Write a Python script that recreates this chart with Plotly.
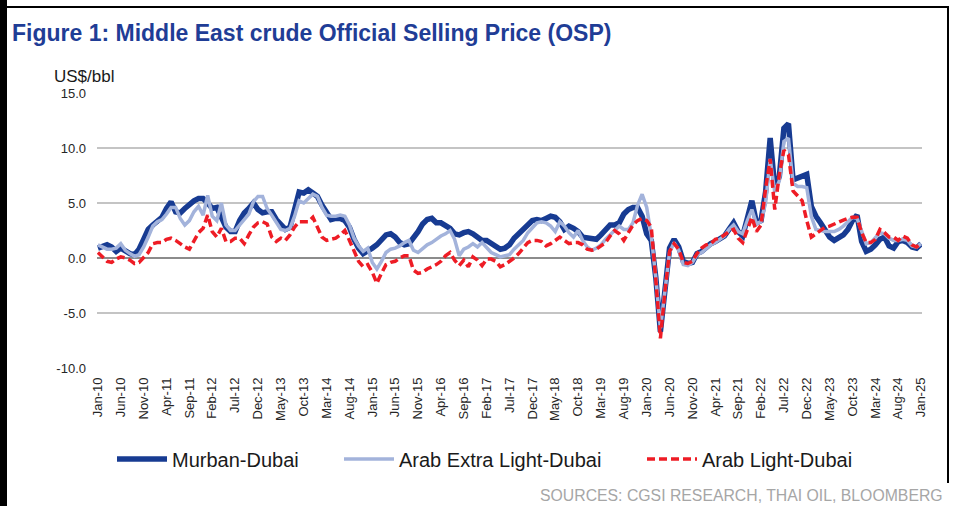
import plotly.graph_objects as go

# ---------------- data (monthly, Jan-10 .. Jan-25) ----------------
months = ["Jan", "Feb", "Mar", "Apr", "May", "Jun", "Jul", "Aug", "Sep", "Oct", "Nov", "Dec"]
categories = [f"{mo}-{yy:02d}" for yy in range(10, 26) for mo in months][:181]
tick_labels = categories[::5]

murban_dubai = [
    0.9, 1.0, 1.2, 1.0, 0.6, 0.9, 0.6, 0.4, 0.3, 0.8, 1.7, 2.6,
    3.0, 3.3, 3.7, 4.5, 5.1, 4.2, 4.1, 4.5, 4.9, 5.2, 5.4, 5.4,
    5.0, 4.5, 4.6, 3.8, 2.8, 2.4, 2.4, 3.4, 4.1, 4.5, 5.0, 4.4,
    4.1, 4.2, 4.2, 3.5, 3.1, 2.6, 2.8, 4.6, 6.0, 5.9, 6.2, 5.9,
    5.6, 4.8, 4.1, 3.5, 3.6, 3.6, 3.4, 2.8, 1.7, 0.9, 0.4, 0.6,
    0.9, 1.2, 1.7, 2.1, 2.2, 1.9, 1.4, 1.2, 1.3, 1.8, 2.4, 3.1,
    3.5, 3.6, 3.2, 3.2, 3.0, 2.7, 2.2, 2.1, 2.3, 2.4, 2.2, 1.9,
    1.6, 1.6, 1.3, 1.0, 0.8, 0.9, 1.2, 1.8, 2.2, 2.5, 2.9, 3.4,
    3.5, 3.4, 3.6, 3.8, 3.7, 3.3, 2.6, 2.9, 2.7, 2.4, 1.9, 1.8,
    1.8, 1.7, 2.1, 2.6, 3.0, 3.0, 3.2, 4.0, 4.4, 4.6, 4.6, 3.8,
    2.2, 1.6, -1.8, -6.7, -3.3, 0.9, 1.7, 1.0, -0.3, -0.5, -0.4, 0.4,
    0.6, 1.0, 1.3, 1.5, 1.7, 2.0, 2.6, 3.2, 2.4, 2.0, 3.6, 5.2,
    3.2, 3.4, 6.0, 10.9, 6.4, 7.4, 11.8, 12.2, 7.1, 7.3, 7.4, 7.6,
    4.7, 3.8, 3.2, 2.5, 1.9, 1.6, 1.8, 2.1, 2.6, 3.4, 3.9, 1.5,
    0.6, 0.8, 1.2, 1.7, 1.9, 1.1, 0.9, 1.5, 1.6, 1.4, 1.0, 0.9,
    1.3,
]

arab_extra_light_dubai = [
    1.2, 1.0, 0.8, 0.8, 0.9, 1.3, 0.7, 0.4, 0.15, 0.3, 1.0, 1.9,
    2.9, 3.3, 3.5, 4.0, 4.6, 4.6, 3.6, 3.0, 3.4, 4.2, 4.7, 3.9,
    5.7, 3.8, 3.4, 5.0, 3.0, 2.5, 2.5, 3.0, 3.5, 4.0, 5.1, 5.6,
    5.6, 4.5, 3.9, 3.2, 2.6, 2.5, 2.7, 3.8, 5.2, 5.0, 5.4, 5.8,
    5.6, 4.6, 3.9, 3.8, 3.8, 3.9, 3.8, 3.0, 1.8, 1.1, 0.6, 0.9,
    -0.4, -1.0, -0.3, 0.5, 0.8, 0.9, 1.1, 1.4, 1.6, 0.7, 0.5, 0.9,
    1.2, 1.4, 1.7, 2.0, 2.2, 2.5, 1.7, 0.2, 0.8, 1.0, 1.3, 1.0,
    1.4, 0.9, 0.5, 0.3, 0.1, 0.2, 0.3, 0.8, 1.2, 1.6, 2.3, 2.8,
    3.2, 3.3, 3.2, 2.9, 2.4, 3.3, 2.9, 2.3, 1.9, 2.5, 1.6, 1.0,
    0.7, 0.9, 1.2, 1.7, 2.1, 2.6, 2.9, 2.6, 2.6, 3.2, 4.8, 5.8,
    4.6, 2.0, -1.8, -6.4, -3.2, 0.5, 1.4, 0.7, -0.6, -0.7, -0.4, 0.3,
    0.5, 0.9, 1.2, 1.4, 1.7, 2.0, 2.6, 3.0, 2.4, 2.2, 3.4, 4.4,
    3.1, 3.3, 5.0, 9.0, 6.0, 7.0, 10.6, 10.9, 6.8, 6.5, 6.5, 6.4,
    3.8, 2.6, 2.5, 2.4, 2.4, 2.4, 2.6, 2.9, 3.3, 3.7, 3.6, 2.4,
    1.3, 1.4, 1.8, 2.3, 2.2, 1.8, 1.6, 1.6, 1.7, 1.6, 1.1, 1.0,
    1.3,
]

arab_light_dubai = [
    0.5, 0.1, -0.3, -0.4, -0.1, 0.1, 0.0, -0.2, -0.5, -0.4, 0.0, 0.5,
    1.3, 1.4, 1.4, 1.7, 1.8, 1.6, 1.3, 1.0, 0.8, 1.6, 2.3, 2.7,
    3.9, 2.4, 1.9, 2.7, 1.5, 1.5, 1.8, 1.8, 1.3, 2.1, 2.8, 3.2,
    3.3, 3.1, 1.9, 1.5, 1.8, 1.6, 2.1, 2.8, 3.3, 3.3, 3.3, 3.7,
    2.7, 1.9, 1.6, 1.7, 1.8, 2.1, 2.5, 1.6, 0.6, -0.3, -0.8, -0.6,
    -1.3, -2.3, -1.4, -0.6, -0.4, -0.3, 0.0, 0.2, 0.2, -1.1, -1.4, -1.3,
    -1.0, -0.8, -0.6, -0.3, 0.2, 0.5, -0.2, -0.7, -0.2, -0.8, 0.1, -0.2,
    -0.7, -0.1, -0.1, -0.3, -0.8, -0.6, -0.3, 0.0, 0.4, 0.9, 1.4, 1.6,
    1.6, 1.5, 1.1, 1.3, 1.6, 1.9, 1.6, 1.3, 1.4, 1.4, 1.2, 0.8,
    0.7, 0.8, 1.1, 1.4, 2.0, 2.5, 2.2, 1.6, 2.3, 3.0, 3.4, 3.6,
    3.4, 2.8, -2.0, -7.3, -3.0, 0.6, 1.3, 0.8, -0.4, -0.5, -0.3, 0.4,
    0.9, 1.2, 1.3, 1.7, 1.8, 2.1, 2.4, 2.6, 1.8, 1.4, 2.5, 3.7,
    2.4, 3.0, 6.3, 9.0, 4.4, 7.6, 9.8, 9.4, 6.1, 5.6, 5.2, 3.4,
    1.9, 2.2, 2.5, 2.8, 2.9, 3.1, 3.3, 3.45, 3.6, 3.7, 3.7, 2.3,
    1.4, 1.4, 1.7, 2.6, 2.3, 1.9, 1.9, 1.6, 2.0, 1.8, 1.2, 1.0,
    1.3,
]

series_names = ["Murban-Dubai", "Arab Extra Light-Dubai", "Arab Light-Dubai"]
y_ticks = [-10, -5, 0, 5, 10, 15]
y_tick_text = ["-10.0", "-5.0", "0.0", "5.0", "10.0", "15.0"]

# ---------------- layout helpers (pixel -> paper) ----------------
W, H = 956, 506
L, R, T, B = 97, 922, 93, 368


def px_x(p):
    return (p - L) / (R - L)


def px_y(p):
    return (B - p) / (B - T)


FONT = "Arial, Liberation Sans, sans-serif"

fig = go.Figure()
fig.add_trace(go.Scatter(
    x=categories, y=murban_dubai, name=series_names[0], mode="lines",
    line=dict(color="#173B92", width=5.5), legend="legend",
))
fig.add_trace(go.Scatter(
    x=categories, y=arab_extra_light_dubai, name=series_names[1], mode="lines",
    line=dict(color="#A3B3DB", width=3.5), legend="legend2",
))
fig.add_trace(go.Scatter(
    x=categories, y=arab_light_dubai, name=series_names[2], mode="lines",
    line=dict(color="#EE1C25", width=3.5, dash="8px,4px"), legend="legend3",
))

legend_common = dict(
    orientation="h", yanchor="middle", xanchor="left",
    bgcolor="rgba(0,0,0,0)", borderwidth=0, itemwidth=50,
    font=dict(family=FONT, size=20, color="#1a1a1a"),
)

fig.update_layout(
    width=W, height=H, autosize=False,
    margin=dict(l=L, r=W - R, t=T, b=H - B, pad=0),
    paper_bgcolor="white", plot_bgcolor="white",
    font=dict(family=FONT, size=13, color="#262626"),
    xaxis=dict(
        type="category", range=[-0.2, 180.2],
        tickmode="array", tickvals=tick_labels, ticktext=tick_labels,
        tickangle=-90, tickfont=dict(size=13, color="#262626"),
        showgrid=False, zeroline=False, showline=False,
        ticks="", ticklabelstandoff=6,
    ),
    yaxis=dict(
        range=[-10, 15], tickmode="array", tickvals=y_ticks, ticktext=y_tick_text,
        tickfont=dict(size=13, color="#262626"),
        showgrid=True, gridcolor="#C4C4C4", gridwidth=1.5,
        zeroline=True, zerolinecolor="#8C8C8C", zerolinewidth=2,
        showline=False, ticks="", ticklabelstandoff=10,
    ),
    legend=dict(legend_common, x=px_x(112), y=px_y(459)),
    legend2=dict(legend_common, x=px_x(339), y=px_y(459)),
    legend3=dict(legend_common, x=px_x(642), y=px_y(459)),
    showlegend=True,
)

# titles / notes
fig.add_annotation(
    text="<b>Figure 1: Middle East crude Official Selling Price (OSP)</b>",
    xref="paper", yref="paper", x=px_x(10), y=px_y(33),
    xanchor="left", yanchor="middle", showarrow=False,
    font=dict(family=FONT, size=23, color="#1F3D96"),
)
fig.add_annotation(
    text="US$/bbl", xref="paper", yref="paper", x=px_x(52), y=px_y(76),
    xanchor="left", yanchor="middle", showarrow=False,
    font=dict(family=FONT, size=17, color="#1a1a1a"),
)
fig.add_annotation(
    text="SOURCES: CGSI RESEARCH, THAI OIL, BLOOMBERG",
    xref="paper", yref="paper", x=px_x(945), y=px_y(496),
    xanchor="right", yanchor="middle", showarrow=False,
    font=dict(family=FONT, size=15.8, color="#A6A6A6"),
)

# page frame
fig.add_shape(type="rect", xref="paper", yref="paper",
              x0=px_x(0), x1=px_x(7), y0=px_y(506), y1=px_y(0),
              fillcolor="black", line=dict(width=0), layer="above")
fig.add_shape(type="line", xref="paper", yref="paper",
              x0=px_x(0), x1=px_x(949), y0=px_y(7), y1=px_y(7),
              line=dict(color="black", width=2), layer="above")
fig.add_shape(type="line", xref="paper", yref="paper",
              x0=px_x(948), x1=px_x(948), y0=px_y(6), y1=px_y(483),
              line=dict(color="black", width=2), layer="above")

fig.write_html(
    "out.html",
    config={"displayModeBar": False},
    post_script="document.body.style.margin='0';document.body.style.overflow='hidden';",
)
